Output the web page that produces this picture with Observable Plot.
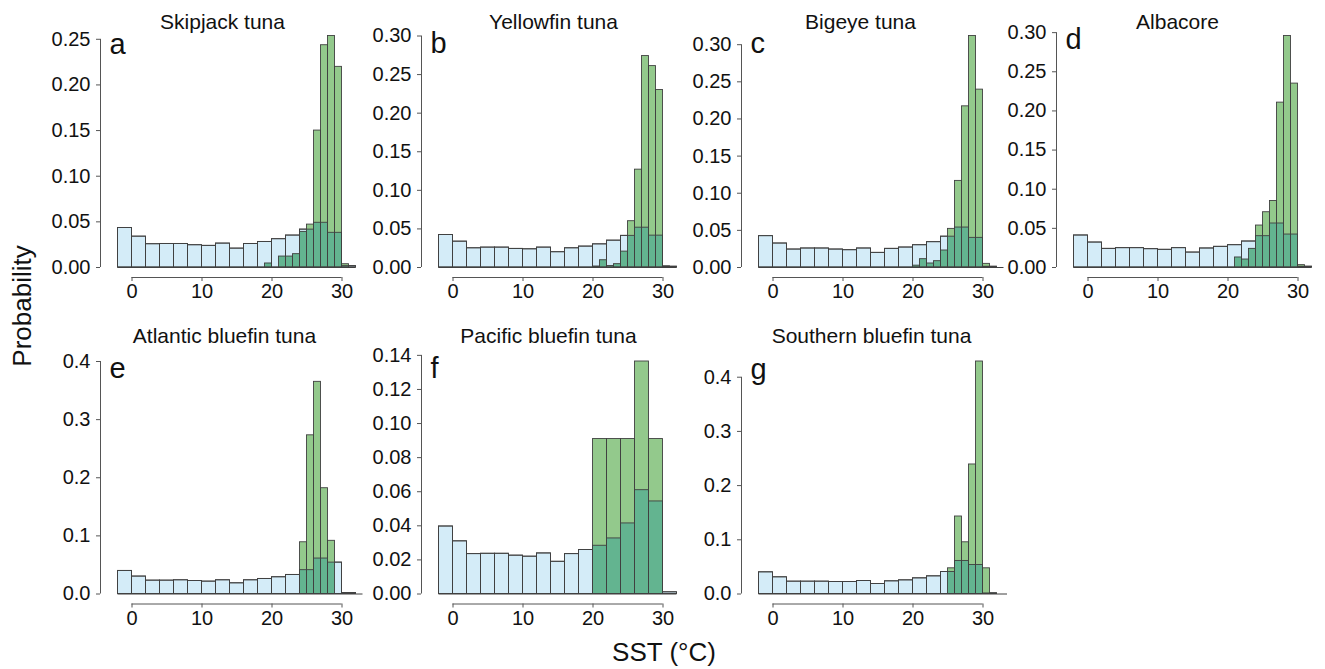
<!DOCTYPE html>
<html><head><meta charset="utf-8">
<script src="https://cdn.jsdelivr.net/npm/d3@7"></script>
<script src="https://cdn.jsdelivr.net/npm/@observablehq/plot@0.6"></script>
<style>
body{margin:0;background:#fff;}
#wrap{position:relative;width:1325px;height:669px;overflow:hidden;font-family:"Liberation Sans",Arial,Helvetica,sans-serif;background:#fff;}
.panel{position:absolute;}
.lab{position:absolute;font-size:26px;line-height:1;color:#111;white-space:nowrap;transform:translate(-50%,-50%);}
.lab.rot{transform:translate(-50%,-50%) rotate(-90deg);}
</style></head><body><div id="wrap"></div>
<script>
// ---------------- data ----------------
const speciesNames = ["Skipjack tuna","Yellowfin tuna","Bigeye tuna","Albacore","Atlantic bluefin tuna","Pacific bluefin tuna","Southern bluefin tuna"];
const panelLetters = ["a","b","c","d","e","f","g"];
const sstTicks = [0, 10, 20, 30];

// background SST distribution: 2 °C bins starting at -2 °C
const backgroundBinStart = -2;
const backgroundBinWidth = 2;
const backgroundSkipjack = [0.0433,0.0338,0.0255,0.0258,0.0258,0.0244,0.0237,0.0262,0.0207,0.0258,0.0280,0.0310,0.0350,0.0415,0.0490,0.0380,0.0015];
const backgroundYellowfin = [0.0421,0.0335,0.0249,0.0258,0.0258,0.0241,0.0236,0.0258,0.0198,0.0249,0.0271,0.0300,0.0348,0.0410,0.0516,0.0413,0.0010];
const backgroundBigeye = [0.0422,0.0323,0.0242,0.0256,0.0256,0.0242,0.0233,0.0256,0.0197,0.0251,0.0269,0.0300,0.0341,0.0415,0.0538,0.0399,0.0010];
const backgroundAlbacore = [0.0409,0.0319,0.0238,0.0247,0.0247,0.0234,0.0226,0.0247,0.0191,0.0243,0.0264,0.0285,0.0332,0.0400,0.0562,0.0421,0.0010];
const backgroundAtlantic = [0.0397,0.0300,0.0230,0.0230,0.0236,0.0224,0.0213,0.0236,0.0184,0.0236,0.0259,0.0288,0.0328,0.0410,0.0610,0.0540,0.0017];
const backgroundPacific = [0.0396,0.0309,0.0234,0.0236,0.0236,0.0225,0.0219,0.0238,0.0189,0.0234,0.0258,0.0283,0.0326,0.0414,0.0609,0.0543,0.0010];
const backgroundSouthern = [0.0400,0.0308,0.0228,0.0228,0.0228,0.0222,0.0222,0.0240,0.0185,0.0234,0.0252,0.0289,0.0326,0.0406,0.0610,0.0535,0.0010];

// tuna occurrence SST distribution
const occurrenceStart = [19, 20, 20, 21, 24, 20, 25];
const occurrenceWidth = [1, 1, 1, 1, 1, 2, 1];
const occurrenceSkipjack = [0.0044,0,0.012,0.012,0.0146,0.039,0.047,0.150,0.2435,0.2536,0.2198,0.0036];
const occurrenceYellowfin = [0.0013,0.0094,0.002,0.0043,0.0206,0.060,0.1268,0.274,0.261,0.230,0.0015];
const occurrenceBigeye = [0.0025,0.0112,0.0054,0.0085,0.0229,0.052,0.1166,0.217,0.3117,0.2395,0.0049];
const occurrenceAlbacore = [0.0128,0.0102,0.0238,0.0536,0.0706,0.085,0.2106,0.2957,0.2349,0.003];
const occurrenceAtlantic = [0.089,0.273,0.365,0.182,0.0915];
const occurrencePacific = [0.0909,0.0909,0.0909,0.1364,0.0909];
const occurrenceSouthern = [0.0474,0.143,0.0954,0.239,0.429,0.0474,0.001];

const probTicks = [
  [0,0.05,0.10,0.15,0.20,0.25],
  [0,0.05,0.10,0.15,0.20,0.25,0.30],
  [0,0.05,0.10,0.15,0.20,0.25,0.30],
  [0,0.05,0.10,0.15,0.20,0.25,0.30],
  [0,0.1,0.2,0.3,0.4],
  [0,0.02,0.04,0.06,0.08,0.10,0.12,0.14],
  [0,0.1,0.2,0.3,0.4]
];
const probTickDecimals = [2,2,2,2,1,2,1];
const probTop = [0.2536,0.30,0.3117,0.2957,0.40,0.1364,0.429];
const binsEnd = [32,32,33,32,33,32,33.5];

const backgrounds = [backgroundSkipjack,backgroundYellowfin,backgroundBigeye,backgroundAlbacore,backgroundAtlantic,backgroundPacific,backgroundSouthern];
const occurrences = [occurrenceSkipjack,occurrenceYellowfin,occurrenceBigeye,occurrenceAlbacore,occurrenceAtlantic,occurrencePacific,occurrenceSouthern];

// ---------------- layout / style ----------------
const axisLeftPx = [100,421,741,1056,100,421,741];
const titleCenterPx = [222,553,860,1177,224,548,871];
const letterDy = [17.5,16.5,16.5,12.5,16,16,17];
const rowOf = [0,0,0,0,1,1,1];
const rowTopPx = [0,310], frameTopPx = [35.5,361], baselinePx = [267,593.5], titleBaselinePx = [28,342];
const xDomain = [-4.5, 34.5];
const pxPerDeg = 7;
const ML = 56, MR = 4, MB = 34, axisGap = 10;
const blueFill = "#d4ecf8", greenFill = "#93c98c", overlapFill = "#63b490", edge = "#404040", axisColor = "#555", ink = "#111";
const font = "'Liberation Sans', Arial, Helvetica, sans-serif";

const wrap = document.getElementById("wrap");

speciesNames.forEach((name, i) => {
  const r = rowOf[i];
  const blue = backgrounds[i].map((v, k) => ({x1: backgroundBinStart + k*backgroundBinWidth, x2: backgroundBinStart + (k+1)*backgroundBinWidth, v}));
  const green = occurrences[i].map((v, k) => {
    const x1 = occurrenceStart[i] + k*occurrenceWidth[i], x2 = x1 + occurrenceWidth[i];
    const mid = (x1 + x2)/2;
    const b = blue.find(d => mid >= d.x1 && mid < d.x2);
    return {x1, x2, v, overlap: Math.min(v, b ? b.v : 0)};
  });
  const MT = frameTopPx[r] - rowTopPx[r];
  const frameBottom = baselinePx[r] + axisGap;
  const H = frameBottom + MB - rowTopPx[r];
  const W = ML + (xDomain[1]-xDomain[0])*pxPerDeg + MR;
  const ticks = probTicks[i];
  const fmt = d3.format("." + probTickDecimals[i] + "f");

  const chart = Plot.plot({
    width: W, height: H,
    marginLeft: ML, marginRight: MR, marginTop: MT, marginBottom: MB,
    x: {domain: xDomain, label: null},
    y: {domain: [0, probTop[i]], insetBottom: axisGap, label: null},
    style: {fontFamily: font, background: "transparent", overflow: "visible", color: ink},
    marks: [
      Plot.ruleY([0], {x1: backgroundBinStart, x2: binsEnd[i], stroke: edge, strokeWidth: 1}),
      Plot.rectY(blue, {x1: "x1", x2: "x2", y1: 0, y2: d => d.v, fill: blueFill, stroke: edge, strokeWidth: 0.9}),
      Plot.rectY(green, {x1: "x1", x2: "x2", y1: 0, y2: d => d.v, fill: greenFill}),
      Plot.rectY(green, {x1: "x1", x2: "x2", y1: 0, y2: d => d.overlap, fill: overlapFill}),
      Plot.rectY(blue, {x1: "x1", x2: "x2", y1: 0, y2: d => d.v, fill: "none", stroke: edge, strokeWidth: 0.9}),
      Plot.rectY(green, {x1: "x1", x2: "x2", y1: 0, y2: d => d.v, fill: "none", stroke: edge, strokeWidth: 0.9}),
      Plot.ruleX([xDomain[0]], {y1: ticks[0], y2: ticks[ticks.length-1], stroke: axisColor}),
      Plot.ruleY([0], {x1: sstTicks[0], x2: sstTicks[sstTicks.length-1], dy: axisGap, stroke: axisColor}),
      Plot.axisY({ticks, tickFormat: fmt, tickSize: 4, tickPadding: 6, fontSize: 20, stroke: axisColor, fill: ink, label: null}),
      Plot.axisX({ticks: sstTicks, tickFormat: d3.format("d"), tickSize: 4, tickPadding: 2.5, fontSize: 20, stroke: axisColor, fill: ink, label: null}),
      Plot.text([name], {text: d => d, frameAnchor: "top-left", dx: titleCenterPx[i] - axisLeftPx[i], dy: titleBaselinePx[r] - frameTopPx[r], textAnchor: "middle", lineAnchor: "bottom", fontSize: 21, fill: ink}),
      Plot.text([panelLetters[i]], {text: d => d, frameAnchor: "top-left", dx: 9, dy: letterDy[i], textAnchor: "start", lineAnchor: "bottom", fontSize: 29, fill: ink})
    ]
  });
  const holder = document.createElement("div");
  holder.className = "panel";
  holder.style.left = (axisLeftPx[i] - ML) + "px";
  holder.style.top = rowTopPx[r] + "px";
  holder.style.width = W + "px";
  holder.appendChild(chart);
  wrap.appendChild(holder);
});

const yLab = document.createElement("div");
yLab.className = "lab rot"; yLab.textContent = "Probability";
yLab.style.left = "22px"; yLab.style.top = "306px";
wrap.appendChild(yLab);
const xLab = document.createElement("div");
xLab.className = "lab"; xLab.textContent = "SST (°C)";
xLab.style.left = "664px"; xLab.style.top = "652px";
wrap.appendChild(xLab);
</script></body></html>
